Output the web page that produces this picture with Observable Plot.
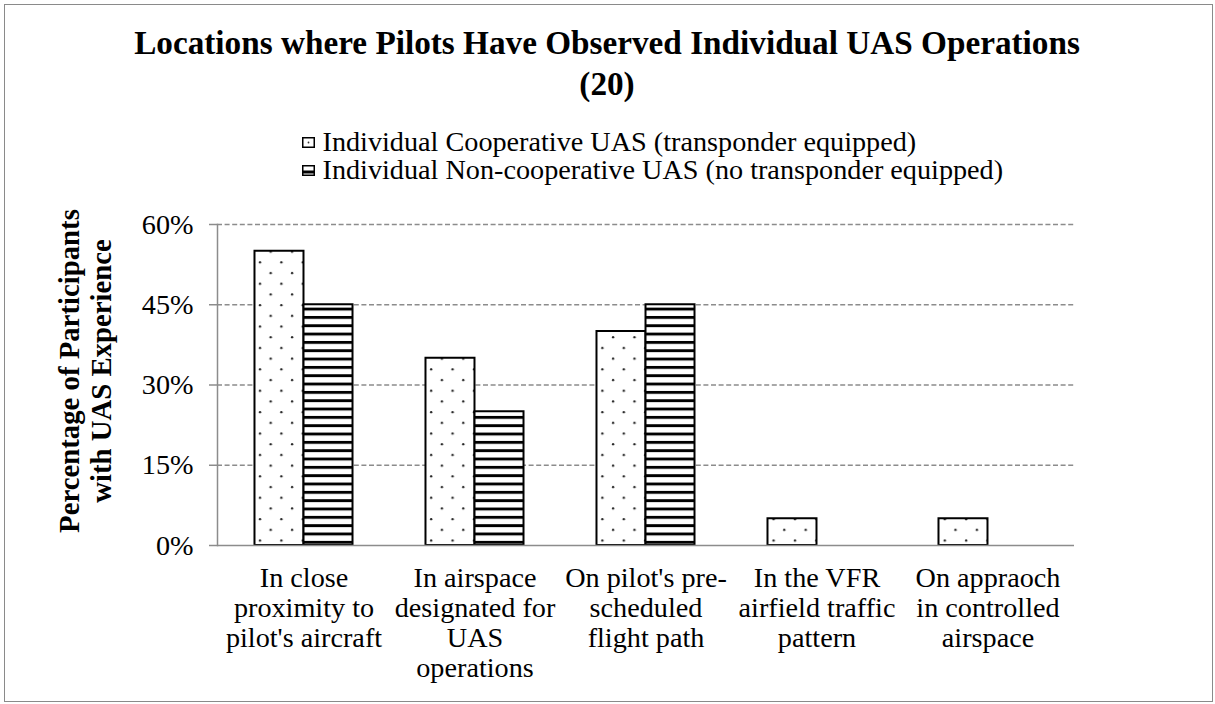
<!DOCTYPE html>
<html><head><meta charset="utf-8">
<script src="https://cdn.jsdelivr.net/npm/d3@7"></script>
<script src="https://cdn.jsdelivr.net/npm/@observablehq/plot@0.6"></script>
<style>
body{margin:0;background:#fff;}
#wrap{position:relative;width:1215px;height:704px;overflow:hidden;font-family:"Liberation Serif",serif;color:#000;background:#fff;}
#border{position:absolute;left:3.5px;top:3.5px;width:1209px;height:698px;box-sizing:border-box;border:1.5px solid #8a8a8a;}
#title{position:absolute;left:0;top:22px;width:1214px;text-align:center;font-weight:bold;line-height:41px;}
#legend{position:absolute;left:302px;top:128px;}
.lrow{display:flex;align-items:center;height:28px;white-space:nowrap;}
.lrow svg{margin-right:7.5px;flex:none;}
#ylab{position:absolute;left:-115px;top:339px;width:400px;height:64px;line-height:32px;text-align:center;font-weight:bold;transform:rotate(-90deg);white-space:nowrap;}
#chart{position:absolute;left:0;top:190px;}
</style>
</head><body>
<div id="wrap">
  <div id="border"></div>
  <div id="title"></div>
  <div id="legend"></div>
  <div id="ylab"></div>
  <div id="chart"></div>
</div>
<script>
const categories = ["close", "designated", "preScheduled", "vfr", "approach"];
const tickLabels = [
  "In close\nproximity to\npilot's aircraft",
  "In airspace\ndesignated for\nUAS\noperations",
  "On pilot's pre-\nscheduled\nflight path",
  "In the VFR\nairfield traffic\npattern",
  "On appraoch\nin controlled\nairspace"
];
const cooperative = [55, 35, 40, 5, 5];
const nonCooperative = [45, 25, 45, 0, 0];
const yTicks = [0, 15, 30, 45, 60];
const seriesNames = [
  "Individual Cooperative UAS (transponder equipped)",
  "Individual Non-cooperative UAS (no transponder equipped)"
];
const titleLines = ["Locations where Pilots Have Observed Individual UAS Operations", "(20)"];
const yLabelLines = ["Percentage of Participants", "with UAS Experience"];

const FONT = '"Liberation Serif"';
const ctx = document.createElement("canvas").getContext("2d");
function fit(text, weight, target) {
  ctx.font = `${weight} 100px ${FONT}`;
  return 100 * target / ctx.measureText(text).width;
}
const titleSize = fit(titleLines[0], "bold", 946);
const legendSize = fit(seriesNames[1], "normal", 681);
const ylabSize = fit(yLabelLines[0], "bold", 324);

// Title
const t = document.getElementById("title");
t.style.fontSize = titleSize + "px";
t.innerHTML = titleLines.join("<br>");

// Y label
const yl = document.getElementById("ylab");
yl.style.fontSize = ylabSize + "px";
yl.innerHTML = yLabelLines.join("<br>");

// Legend
const swatches = [
  `<svg width="13" height="11"><rect x="0.75" y="0.75" width="11.5" height="9.5" fill="#fff" stroke="#000" stroke-width="1.5"/><circle cx="6.5" cy="5.5" r="0.9" fill="#333"/></svg>`,
  `<svg width="13" height="11"><rect x="0.75" y="0.75" width="11.5" height="9.5" fill="#fff" stroke="#000" stroke-width="1.5"/><rect x="0" y="5.5" width="13" height="3" fill="#000"/></svg>`
];
const lg = document.getElementById("legend");
lg.innerHTML = seriesNames.map((n, i) =>
  `<div class="lrow" style="font-size:${legendSize}px">${swatches[i]}<span>${n}</span></div>`).join("");

// Chart
const W = 1215, H = 514, mL = 217, mR = 141, mT = 34, mB = 159;
const padInner = 0.714;
const step = (W - mL - mR) / categories.length;
const half = step * (1 - padInner) / 2;

const dataCoop = categories.map((c, i) => ({cat: c, v: cooperative[i]})).filter(d => d.v > 0);
const dataNon = categories.map((c, i) => ({cat: c, v: nonCooperative[i]})).filter(d => d.v > 0);

const chart = Plot.plot({
  width: W, height: H,
  marginLeft: mL, marginRight: mR, marginTop: mT, marginBottom: mB,
  style: {fontFamily: FONT, fontSize: legendSize + "px", color: "#000", background: "transparent", overflow: "visible"},
  x: {domain: categories, paddingInner: padInner, paddingOuter: padInner / 2, axis: null},
  y: {domain: [0, 60], axis: null},
  marks: [
    Plot.ruleY(yTicks.filter(d => d > 0), {stroke: "#8c8c8c", strokeWidth: 1.3, strokeDasharray: "5,2.6"}),
    Plot.barY(dataCoop, {x: "cat", y: "v", fill: "url(#dots)", stroke: "#000", strokeWidth: 2, dx: -half}),
    Plot.barY(dataNon, {x: "cat", y: "v", fill: "url(#stripes)", stroke: "#000", strokeWidth: 2, dx: half}),
    Plot.ruleY([0], {stroke: "#8c8c8c", strokeWidth: 1.5}),
    Plot.frame({anchor: "left", stroke: "#8c8c8c", strokeWidth: 1.5}),
    Plot.axisY({ticks: yTicks, tickFormat: d => d + "%", tickSize: 8, tickPadding: 16, stroke: "#8c8c8c", strokeWidth: 1.5, fontSize: legendSize, label: null}),
    Plot.axisX({tickSize: 0, tickPadding: 20, lineHeight: 30 / legendSize, fontSize: legendSize, label: null,
      tickFormat: d => tickLabels[categories.indexOf(d)]})
  ]
});

const ns = "http://www.w3.org/2000/svg";
const defs = document.createElementNS(ns, "defs");
defs.innerHTML = `
<pattern id="dots" patternUnits="userSpaceOnUse" width="21.4" height="21.4" x="1.3" y="3.1">
  <rect width="21.4" height="21.4" fill="#fff"/>
  <circle cx="5" cy="5" r="1.2" fill="#222"/>
  <circle cx="15.7" cy="15.7" r="1.2" fill="#222"/>
</pattern>
<pattern id="stripes" patternUnits="userSpaceOnUse" width="10" height="8.33" x="0" y="1">
  <rect width="10" height="8.33" fill="#fff"/>
  <rect width="10" height="2.9" fill="#000"/>
</pattern>`;
chart.insertBefore(defs, chart.firstChild);
document.getElementById("chart").appendChild(chart);
</script>
</body></html>
